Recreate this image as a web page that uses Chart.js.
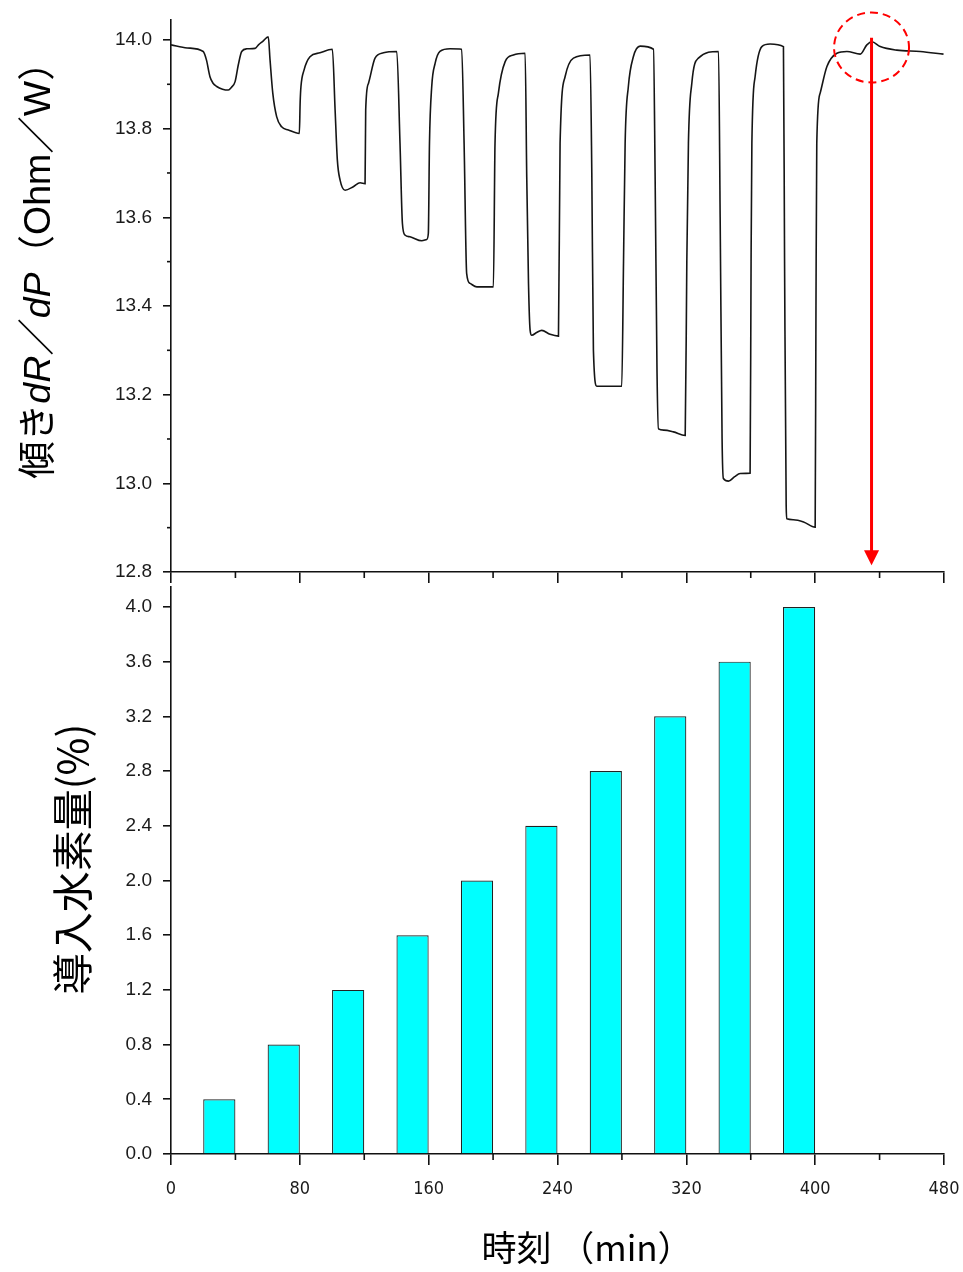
<!DOCTYPE html>
<html><head><meta charset="utf-8">
<script src="https://cdn.jsdelivr.net/npm/chart.js@4.4.1/dist/chart.umd.min.js"></script>
<style>
html,body{margin:0;padding:0;background:#fff;}
#wrap{position:relative;width:963px;height:1272px;overflow:hidden;background:#fff;}
#top{position:absolute;left:0;top:0;z-index:2;}
#bot{position:absolute;left:0;top:580px;z-index:1;}
</style></head><body>
<div id="wrap"><canvas id="top" width="963" height="590"></canvas><canvas id="bot" width="963" height="692"></canvas></div>
<script>
// ---- data ----
const TIME_MIN = [0,10,20,22,24.2,26,28.4,32,35.6,37.5,39.8,41.8,43.9,47,52.2,54.3,57,60.4,
  61.5,63.2,65.6,68.7,72.9,79.7,80.2,80.7,82.6,86.3,92.5,100.2,
  101.9,103.3,105,108.1,113.2,117.4,120.5,120.9,122.6,126.7,131.9,140.2,
  142.2,143.7,145.3,148.4,155.7,158.8,159.8,160.5,161.9,164,167,173.3,180.5,
  182,183.6,185.7,189.9,200.2,201.2,203.3,207.5,212.6,219.9,
  220.9,222,223,224,227,230.2,235.4,240.6,241.6,244.7,249.9,260.2,
  261.3,262.3,264.4,272.7,279.9,281,282,284,287.1,291.3,299.6,
  300.6,301.8,302.7,306,312,319.3,320.3,321.3,323.4,327.5,340,
  341,342.2,343,346.2,350,353.4,359.6,360.2,360.7,362.7,366.9,372,380.3,
  381,382,382.4,386.5,392.8,400,400.5,401,403.1,407.3,413.5,419.7,428,432.1,435.2,440.4,450.7,465.2,479.7];
const SLOPE = [13.989,13.982,13.974,13.955,13.917,13.903,13.895,13.889,13.887,13.893,13.906,13.944,13.974,13.980,13.981,13.989,13.997,14.007,
  13.955,13.880,13.827,13.804,13.797,13.789,13.860,13.895,13.932,13.962,13.971,13.979,
  13.842,13.729,13.684,13.661,13.669,13.678,13.676,13.842,13.902,13.959,13.971,13.974,
  13.767,13.586,13.560,13.556,13.547,13.550,13.564,13.767,13.895,13.947,13.974,13.980,13.979,
  13.767,13.473,13.451,13.443,13.443,13.767,13.880,13.951,13.966,13.970,
  13.691,13.450,13.345,13.334,13.340,13.345,13.336,13.332,13.767,13.917,13.959,13.966,
  13.700,13.300,13.219,13.219,13.219,13.500,13.767,13.895,13.962,13.986,13.979,
  13.700,13.250,13.123,13.120,13.116,13.108,13.500,13.767,13.902,13.959,13.974,
  13.600,13.100,13.011,13.005,13.015,13.022,13.023,13.500,13.767,13.917,13.985,13.991,13.985,
  13.500,12.950,12.920,12.918,12.913,12.901,13.400,13.767,13.880,13.940,13.970,13.974,13.968,13.989,13.996,13.985,13.977,13.974,13.968];
const BAR_TIME = [30,70,110,150,190,230,270,310,350,390];
const H2_PERCENT = [0.4,0.8,1.2,1.6,2.0,2.4,2.8,3.2,3.6,4.0];
const X_MINOR = [40,120,200,280,360,440];
const SLOPE_MINOR = [12.9,13.1,13.3,13.5,13.7,13.9];
const ARROW_X = 435, ARROW_FROM = 14.005, ARROW_TO = 12.815;
const RING_X = 435, RING_Y = 13.983;
const TXT_TOP_Y = ['傾き','dR','／','dP','（','Ohm','／','W','）'];
const TXT_BOT_Y = ['導入水素量','(%)'];
const TXT_X = '時刻 （min）';

// ---- helpers ----
const AX = '#111';
const CJK = '"Noto Sans CJK JP"';
const majorX = c => (c.tick && Math.round(c.tick.value) % 80 === 0) ? AX : 'rgba(0,0,0,0)';
const majorSlope = c => (c.tick && Math.round(c.tick.value * 10) % 2 === 0) ? AX : 'rgba(0,0,0,0)';
const noPad = s => { s.paddingTop = 0; s.paddingBottom = 0; s.paddingLeft = 0; s.paddingRight = 0; };

const minorTicks = {
  id: 'minorTicks',
  afterDraw(chart, args, opts) {
    const ctx = chart.ctx;
    (opts.items || []).forEach(it => {
      const s = chart.scales[it.axis];
      ctx.save(); ctx.strokeStyle = AX; ctx.lineWidth = 1.6;
      it.values.forEach(v => {
        const p = s.getPixelForValue(v);
        ctx.beginPath();
        if (s.isHorizontal()) { ctx.moveTo(p, s.top); ctx.lineTo(p, s.top + it.length); }
        else { ctx.moveTo(s.right, p); ctx.lineTo(s.right - it.length, p); }
        ctx.stroke();
      });
      ctx.restore();
    });
  }
};

function drawRotated(ctx, cx, cy, segs) {
  ctx.save(); ctx.translate(cx, cy); ctx.rotate(-Math.PI / 2);
  ctx.textBaseline = 'alphabetic'; ctx.textAlign = 'left'; ctx.fillStyle = '#000';
  let total = 0;
  segs.forEach(s => { ctx.font = s.font; s.w = ctx.measureText(s.text).width; total += s.w; });
  let x = -total / 2;
  segs.forEach(s => { ctx.font = s.font; ctx.fillText(s.text, x, s.base); x += s.w; });
  ctx.restore();
}

const topDecor = {
  id: 'topDecor',
  afterDraw(chart) {
    const ctx = chart.ctx, xs = chart.scales.x, ys = chart.scales.y;
    const sz = 37.5, b = sz * 0.37;
    const cj = `${sz}px ${CJK}`, it = `italic ${sz}px "Liberation Sans"`, la = `${sz}px "Liberation Sans"`;
    const fonts = [cj, it, cj, it, cj, la, cj, la, cj];
    drawRotated(ctx, 36, 261, TXT_TOP_Y.map((t, i) => ({text: t, font: fonts[i], base: b})));
    const px = xs.getPixelForValue(ARROW_X);
    const y0 = ys.getPixelForValue(ARROW_FROM), y1 = ys.getPixelForValue(ARROW_TO);
    ctx.save();
    ctx.strokeStyle = '#ff0000'; ctx.fillStyle = '#ff0000'; ctx.lineWidth = 3;
    ctx.beginPath(); ctx.moveTo(px, y0); ctx.lineTo(px, y1 - 12); ctx.stroke();
    ctx.beginPath(); ctx.moveTo(px, y1); ctx.lineTo(px - 7.5, y1 - 15); ctx.lineTo(px + 7.5, y1 - 15); ctx.closePath(); ctx.fill();
    const rx = xs.getPixelForValue(RING_X), ry = ys.getPixelForValue(RING_Y);
    ctx.lineWidth = 2; ctx.setLineDash([8, 5]);
    ctx.beginPath(); ctx.ellipse(rx, ry, 37.5, 35, 0, 0, Math.PI * 2); ctx.stroke();
    ctx.restore();
  }
};

const botDecor = {
  id: 'botDecor',
  afterDraw(chart) {
    const ctx = chart.ctx;
    const sz = 41;
    drawRotated(ctx, 73, 859 - 580, TXT_BOT_Y.map(t => ({text: t, font: `${sz}px ${CJK}`, base: sz * 0.37})));
    ctx.save();
    ctx.font = `35px ${CJK}`; ctx.fillStyle = '#000'; ctx.textAlign = 'center'; ctx.textBaseline = 'middle';
    ctx.fillText(TXT_X, 587, 1248 - 580);
    ctx.restore();
  }
};

const yFont = {family: '"Liberation Sans", Arial, sans-serif', size: 19};
const xFont = {family: '"Liberation Sans Narrow", "DejaVu Sans Condensed", "Liberation Sans", sans-serif', size: 18};

// ---- top chart: slope dR/dP ----
new Chart(document.getElementById('top'), {
  type: 'line',
  data: {
    datasets: [{
      data: TIME_MIN.map((t, i) => ({x: t, y: SLOPE[i]})),
      borderColor: '#151515', borderWidth: 1.6, pointRadius: 0,
      cubicInterpolationMode: 'monotone', fill: false
    }]
  },
  options: {
    responsive: false, animation: false, devicePixelRatio: 1,
    layout: {autoPadding: false, padding: {left: 71, right: 19, top: 20, bottom: 0}},
    plugins: {legend: {display: false}, tooltip: {enabled: false},
      minorTicks: {items: [{axis: 'x', values: X_MINOR, length: 6}, {axis: 'y', values: SLOPE_MINOR, length: 4}]}},
    scales: {
      x: {
        type: 'linear', min: 0, max: 480,
        ticks: {stepSize: 40, display: false},
        grid: {drawOnChartArea: false, drawTicks: true, tickLength: 11, color: majorX, lineWidth: 1.6},
        border: {display: true, color: AX, width: 1.6},
        afterFit: s => { s.height = 18; noPad(s); }
      },
      y: {
        type: 'linear', min: 12.8, max: 14.045,
        ticks: {stepSize: 0.1, includeBounds: false, autoSkip: false, padding: 11, color: '#1a1a1a', font: yFont,
          callback: v => (Math.round(v * 10) % 2 === 0) ? v.toFixed(1) : ''},
        grid: {drawOnChartArea: false, drawTicks: true, tickLength: 8, color: majorSlope, lineWidth: 1.6},
        border: {display: true, color: AX, width: 1.6},
        afterFit: s => { s.width = 100; noPad(s); }
      }
    }
  },
  plugins: [minorTicks, topDecor]
});

// ---- bottom chart: introduced hydrogen ----
new Chart(document.getElementById('bot'), {
  type: 'bar',
  data: {
    datasets: [{
      data: BAR_TIME.map((t, i) => ({x: t, y: H2_PERCENT[i]})),
      backgroundColor: '#00ffff', borderColor: '#222', borderWidth: 1.2, borderSkipped: 'bottom',
      barPercentage: 0.5, categoryPercentage: 1.0
    }]
  },
  options: {
    responsive: false, animation: false, devicePixelRatio: 1,
    layout: {autoPadding: false, padding: {left: 71, right: 19, top: 7, bottom: 0}},
    plugins: {legend: {display: false}, tooltip: {enabled: false},
      minorTicks: {items: [{axis: 'x', values: X_MINOR, length: 6}]}},
    scales: {
      x: {
        type: 'linear', min: 0, max: 480, offset: false,
        ticks: {stepSize: 40, autoSkip: false, maxRotation: 0, padding: 14, color: '#1a1a1a', font: xFont,
          callback: v => (Math.round(v) % 80 === 0) ? String(v) : ''},
        grid: {offset: false, drawOnChartArea: false, drawTicks: true, tickLength: 11, color: majorX, lineWidth: 1.6},
        border: {display: true, color: AX, width: 1.6},
        afterFit: s => { s.height = 118; noPad(s); }
      },
      y: {
        type: 'linear', min: 0, max: 4.146,
        ticks: {stepSize: 0.4, includeBounds: false, autoSkip: false, padding: 11, color: '#1a1a1a', font: yFont,
          callback: v => v.toFixed(1)},
        grid: {drawOnChartArea: false, drawTicks: true, tickLength: 8, color: AX, lineWidth: 1.6},
        border: {display: true, color: AX, width: 1.6},
        afterFit: s => { s.width = 100; noPad(s); }
      }
    }
  },
  plugins: [minorTicks, botDecor]
});
</script>
</body></html>
